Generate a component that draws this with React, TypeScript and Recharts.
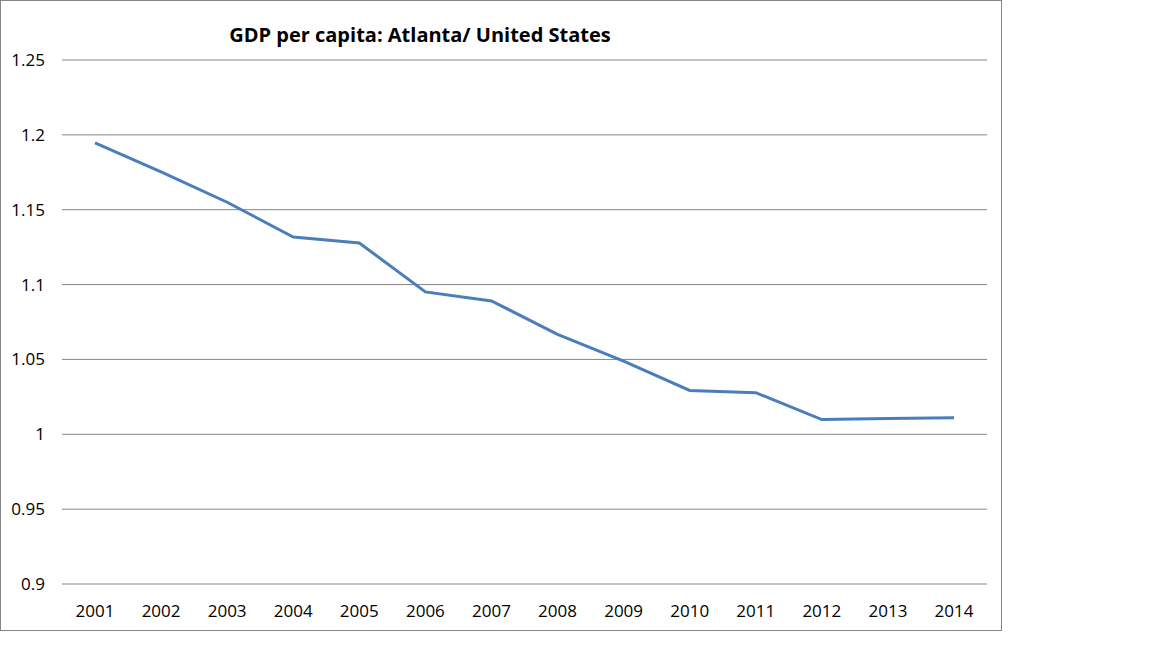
import { LineChart, Line, XAxis, YAxis, CartesianGrid } from 'recharts'

const years = ['2001', '2002', '2003', '2004', '2005', '2006', '2007', '2008', '2009', '2010', '2011', '2012', '2013', '2014']
const ratio = [1.1947, 1.1753, 1.155, 1.1318, 1.1278, 1.0951, 1.0891, 1.0667, 1.0489, 1.0293, 1.0278, 1.0098, 1.0105, 1.0111]
const yTicks = [0.9, 0.95, 1, 1.05, 1.1, 1.15, 1.2, 1.25]

const data = years.map((year, i) => ({ year, ratio: ratio[i] }))

const font = '"Open Sans", sans-serif'
const gridColor = '#868686'

export default function App() {
  return (
    <div style={{ position: 'absolute', left: 0, top: 0, width: 1002, height: 631 }}>
      <LineChart
        width={1002}
        height={631}
        data={data}
        margin={{ top: 60, right: 15, bottom: 17, left: 0 }}
        style={{ position: 'absolute', left: 0, top: 0 }}
      >
        <CartesianGrid vertical={false} stroke={gridColor} strokeWidth={1} />
        <XAxis
          dataKey="year"
          axisLine={false}
          tickLine={false}
          tickMargin={15}
          height={30}
          interval={0}
          padding={{ left: 33, right: 33 }}
          tick={{ fill: '#000', fontSize: 17, fontFamily: font }}
        />
        <YAxis
          domain={[0.9, 1.25]}
          ticks={yTicks}
          axisLine={false}
          tickLine={false}
          tickMargin={11}
          width={62}
          tick={{ fill: '#000', fontSize: 17, fontFamily: font }}
        />
        <Line
          type="linear"
          dataKey="ratio"
          stroke="#4A7EBB"
          strokeWidth={3}
          dot={false}
          isAnimationActive={false}
        />
      </LineChart>
      <div
        style={{
          position: 'absolute',
          left: 0,
          top: 0,
          width: 1002,
          height: 631,
          boxSizing: 'border-box',
          border: `1px solid ${gridColor}`,
          pointerEvents: 'none',
        }}
      />
      <div
        style={{
          position: 'absolute',
          left: 220,
          width: 400,
          top: 21,
          textAlign: 'center',
          fontFamily: font,
          fontWeight: 'bold',
          fontSize: 20,
          color: '#000',
        }}
      >
        GDP per capita: Atlanta/ United States
      </div>
    </div>
  )
}
